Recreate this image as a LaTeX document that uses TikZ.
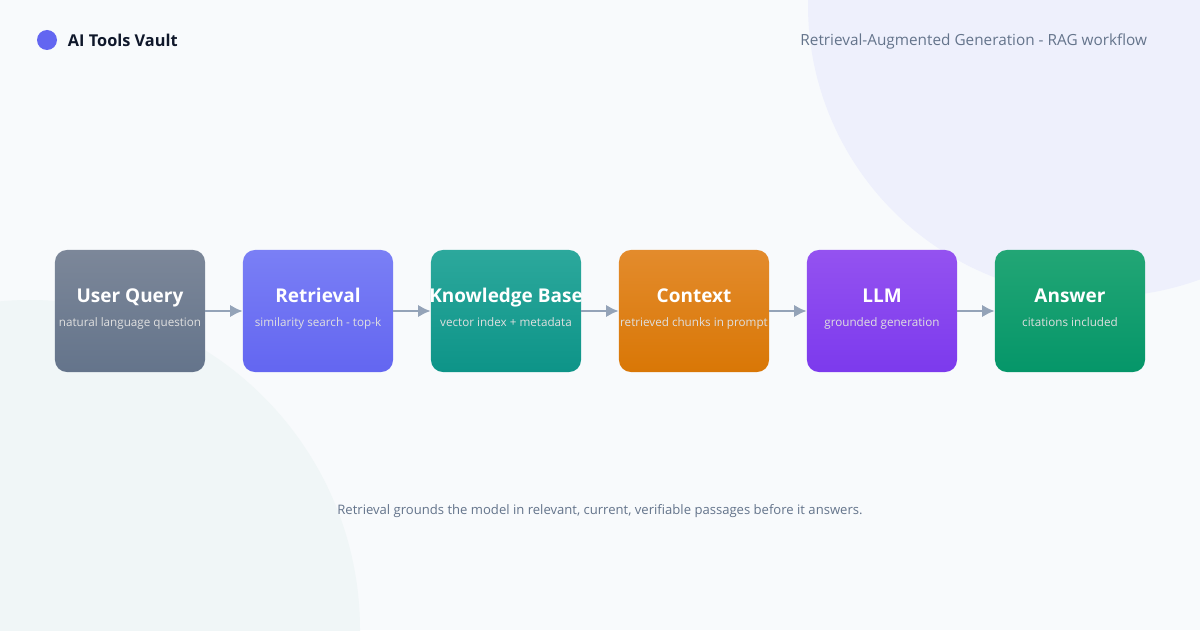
\documentclass[tikz,border=0pt]{standalone}
\usepackage{fontspec}
\setmainfont{Open Sans}
\definecolor{bg}{HTML}{F8FAFC}
\definecolor{arrowgray}{HTML}{94A3B8}
\definecolor{headgray}{HTML}{64748B}
\definecolor{ink}{HTML}{0F172A}
\definecolor{discA}{HTML}{EEF0FC}
\definecolor{discB}{HTML}{F0F6F7}
\definecolor{dot}{HTML}{6366F1}
\tikzset{
  stage/.style={rounded corners=0.3cm,minimum width=3.75cm,minimum height=3.05cm,inner sep=0pt},
  stagetitle/.style={anchor=base,text=white,font=\fontsize{13.5}{15}\selectfont\bfseries},
  stagesub/.style={anchor=base,text=white!88!black,font=\fontsize{8.3}{10}\selectfont},
  flow/.style={draw=arrowgray,line width=2pt,-{Latex[length=9pt,width=9pt]}},
}
\usetikzlibrary{arrows.meta}
\begin{document}
\begin{tikzpicture}[x=0.025cm,y=-0.025cm]
  \fill[bg] (0,0) rectangle (1200,630);
  \useasboundingbox (0,0) rectangle (1200,630);
  % background discs
  \begin{scope}
    \clip (0,0) rectangle (1200,630);
    \fill[discA] (1100,5) circle (292);
    \fill[discB] (30,630) circle (330);
  \end{scope}
  % header
  \fill[dot] (47,40) circle (10);
  \node[anchor=west,text=ink,font=\fontsize{11.6}{14}\selectfont\bfseries] (brand) at (63,40) {AI Tools Vault};
  \node[anchor=east,text=headgray,font=\fontsize{10.9}{12}\selectfont] (heading) at (1152,41) {Retrieval-Augmented Generation - RAG workflow};
  % stages
  \foreach \i/\t/\s/\ca/\cb [count=\n] in {
      130/User Query/natural language question/7C8799/64748B,
      318/Retrieval/similarity search - top-k/7A7FF5/6366F1,
      506/Knowledge Base/vector index + metadata/2CA89C/0D9488,
      694/Context/retrieved chunks in prompt/E38B2C/D97706,
      882/LLM/grounded generation/9452F0/7C3AED,
      1070/Answer/citations included/22A675/059669} {
    \definecolor{ctop}{HTML}{\ca}
    \definecolor{cbot}{HTML}{\cb}
    \node[stage,top color=ctop,bottom color=cbot] (s\n) at (\i,311) {};
    \node[stagetitle] at (\i,302) {\t};
    \node[stagesub] at (\i,326) {\s};
  }
  \foreach \a/\b in {1/2,2/3,3/4,4/5,5/6}
    \draw[flow] (s\a.east) -- (s\b.west);
  % footer
  \node[text=headgray,font=\fontsize{9.3}{11}\selectfont] (note) at (600,511) {Retrieval grounds the model in relevant, current, verifiable passages before it answers.};
\end{tikzpicture}
\end{document}
